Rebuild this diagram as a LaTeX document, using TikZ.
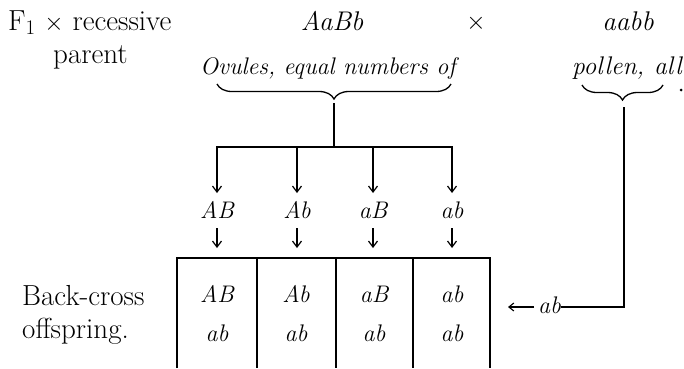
\documentclass[tikz,border=0pt]{standalone}
\usetikzlibrary{arrows.meta,decorations.pathreplacing}
\begin{document}
\begin{tikzpicture}[x=1pt,y=-1pt,
  txt/.style={inner sep=0pt,font=\fontsize{29}{33}\selectfont},
  itx/.style={inner sep=0pt,font=\fontsize{24}{28}\selectfont\itshape},
  itb/.style={inner sep=0pt,font=\fontsize{27}{31}\selectfont\itshape},
  ln/.style={line width=1.3pt},
  arr/.style={ln,-{Straight Barb[length=6pt,width=9pt,line width=1.2pt]}},
  brc/.style={ln,decorate,decoration={brace,amplitude=15pt,mirror}},
  frame/.style={line width=1.8pt},
  divl/.style={line width=1.3pt},
  dotmark/.style={circle,fill=black,inner sep=0pt,minimum size=3pt}]
\useasboundingbox (0,0) rectangle (684,368);
% header
\node[txt,anchor=base west] (f1) at (8,30) {F$_1$ $\times$ recessive};
\node[txt,anchor=base west] (par) at (53,63) {parent};
\node[itb,anchor=base] (aabbF) at (332,30) {AaBb};
\node[txt] (cross) at (476,23) {$\times$};
\node[itb,anchor=base] (aabbR) at (628,30) {aabb};
\node[itx,anchor=base west] (ovules) at (200,74) {Ovules, equal numbers of};
\node[itx,anchor=base west,font=\fontsize{25.5}{30}\selectfont\itshape] (pollen) at (572,74) {pollen,\hspace{10pt}all};
\node[dotmark] (dot) at (681,90) {};
% braces
\draw[brc] (217,84) -- (451,84);
\draw[brc] (582,85) -- (663,85);
\coordinate (otip) at (334,103);
\coordinate (ojoin) at (334,147);
\coordinate (ptip) at (624,107);
\coordinate (pcorner) at (624,307);
\draw[ln] (otip) -- (ojoin);
\draw[ln] (217,147) -- (452,147);
% gametes
\foreach \n/\x/\t in {g1/217/AB,g2/297/Ab,g3/373/aB,g4/452/ab}{
  \coordinate (\n top) at (\x,146.35);
  \node[itx,anchor=base] (\n) at (\x,218) {\t};
  \coordinate (\n a) at (\x,193);
  \coordinate (\n b) at (\x,228);
  \coordinate (\n c) at (\x,248);
  \draw[arr] (\n top) -- (\n a);
  \draw[arr] (\n b) -- (\n c);
}
% table
\coordinate (tl) at (177,258);
\coordinate (tr) at (490,258);
\draw[frame] (177,368) -- (tl) -- (tr) -- (490,368);
\foreach \x in {257,336,413}{\draw[divl] (\x,258) -- (\x,368);}
\foreach \n/\x/\t in {r1/217/AB,r2/296/Ab,r3/374/aB,r4/452/ab}{
  \node[itx,anchor=base] (\n u) at (\x,302) {\t};
  \node[itx,anchor=base] (\n l) at (\x,341) {ab};
}
\node[txt,anchor=base west] (bc) at (22,305) {Back-cross};
\node[txt,anchor=base west] (off) at (22,338) {offspring.};
% pollen path
\node[itx,anchor=base west] (abp) at (538,313) {ab};
\coordinate (arrend) at (508,307);
\draw[ln] (ptip) -- (pcorner) -- (abp.east |- pcorner);
\draw[ln,-{Straight Barb[length=5pt,width=8pt,line width=1.1pt]}] ([xshift=-4pt]abp.west |- pcorner) -- (arrend);
\end{tikzpicture}
\end{document}
